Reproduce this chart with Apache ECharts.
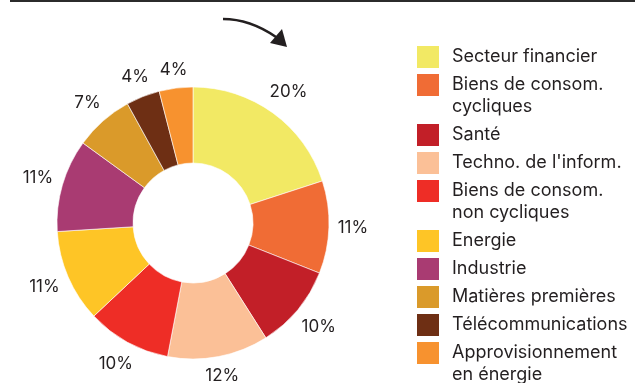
<!DOCTYPE html>
<html>
<head>
<meta charset="utf-8">
<script src="https://cdn.jsdelivr.net/npm/echarts@6/dist/echarts.min.js"></script>
<style>
  html, body { margin: 0; padding: 0; background: #fff; }
  #chart { width: 635px; height: 383px; }
</style>
</head>
<body>
<div id="chart"></div>
<script>
// Sector breakdown (percent of portfolio)
const sectors = [
  'Secteur financier',
  'Biens de consom.\ncycliques',
  'Santé',
  "Techno. de l'inform.",
  'Biens de consom.\nnon cycliques',
  'Energie',
  'Industrie',
  'Matières premières',
  'Télécommunications',
  'Approvisionnement\nen énergie'
];
const weights = [20, 11, 10, 12, 10, 11, 11, 7, 4, 4];
const colors = ['#F2E964', '#F06C35', '#C21F28', '#FBC097', '#EE2D26',
                '#FEC526', '#A93B72', '#DA9A2A', '#6E2F14', '#F7922F'];

const TEXT = '#231F20';
const FONT = 'Inter, "Liberation Sans", Arial, sans-serif';
const CENTER = [193, 223];
const INNER_R = 60, OUTER_R = 136, LABEL_GAP = 8.5;

// One legend block per sector so wrapped names hang below their swatch.
// A leading blank line keeps the first text line level with the swatch.
const LINE = 22, STEP = 28;
let swatchTop = 46;
const legends = sectors.map(function (name) {
  const extra = (name.split('\n').length - 1) * LINE;
  const leg = {
    left: 417,
    top: swatchTop - extra,
    orient: 'vertical',
    padding: 0,
    itemWidth: 22,
    itemHeight: 22,
    icon: 'rect',
    selectedMode: false,
    itemStyle: { borderWidth: 0 },
    formatter: extra ? '\n{name}' : '{name}',
    data: [name],
    textStyle: {
      fontFamily: FONT, fontSize: 18, color: TEXT,
      lineHeight: LINE, padding: [0, 0, 0, 8]
    }
  };
  swatchTop += STEP + extra;
  return leg;
});

// mid-angle of each slice (clockwise from 12 o'clock), for label placement
const total = weights.reduce(function (a, b) { return a + b; }, 0);
const midAngles = [];
weights.reduce(function (acc, w) {
  midAngles.push((acc + w / 2) / total * 2 * Math.PI);
  return acc + w;
}, 0);

const sliceData = sectors.map(function (n, i) {
  return { name: n, value: weights[i], itemStyle: { color: colors[i] } };
});

const chart = echarts.init(document.getElementById('chart'), null, { renderer: 'canvas' });
chart.setOption({
  animation: false,
  backgroundColor: '#fff',
  legend: legends,
  graphic: [
    // rule across the top
    { type: 'rect', shape: { x: 10, y: 0, width: 625, height: 2 }, style: { fill: '#2B2B2B' } },
    // clockwise reading arrow
    { type: 'bezierCurve',
      shape: { x1: 223, y1: 19, cpx1: 242, cpy1: 19, cpx2: 260, cpy2: 26, x2: 276, y2: 37 },
      style: { stroke: TEXT, lineWidth: 2.5, fill: null } },
    { type: 'polygon',
      shape: { points: [[282, 29], [270, 43], [287, 47]] },
      style: { fill: TEXT } }
  ],
  series: [
    {
      type: 'pie',
      center: CENTER,
      radius: [INNER_R, OUTER_R],
      startAngle: 90,
      clockwise: true,
      silent: true,
      itemStyle: { borderColor: '#fff', borderWidth: 0.6 },
      emphasis: { disabled: true },
      label: {
        show: true, position: 'inside', rotate: 0,
        formatter: '{c}%', fontFamily: FONT, fontSize: 17, color: TEXT
      },
      labelLine: { show: false },
      // percentages sit just outside the ring, the text box kept a fixed gap from the rim
      labelLayout: function (p) {
        const a = midAngles[p.dataIndex];
        const sx = Math.sin(a), sy = -Math.cos(a);
        const hw = p.labelRect.width / 2, hh = p.labelRect.height / 2;
        const d = OUTER_R + LABEL_GAP + hw * Math.abs(sx) + hh * Math.abs(sy);
        return {
          x: CENTER[0] + d * sx,
          y: CENTER[1] + d * sy,
          align: 'center',
          verticalAlign: 'middle'
        };
      },
      data: sliceData
    }
  ]
});
</script>
</body>
</html>
